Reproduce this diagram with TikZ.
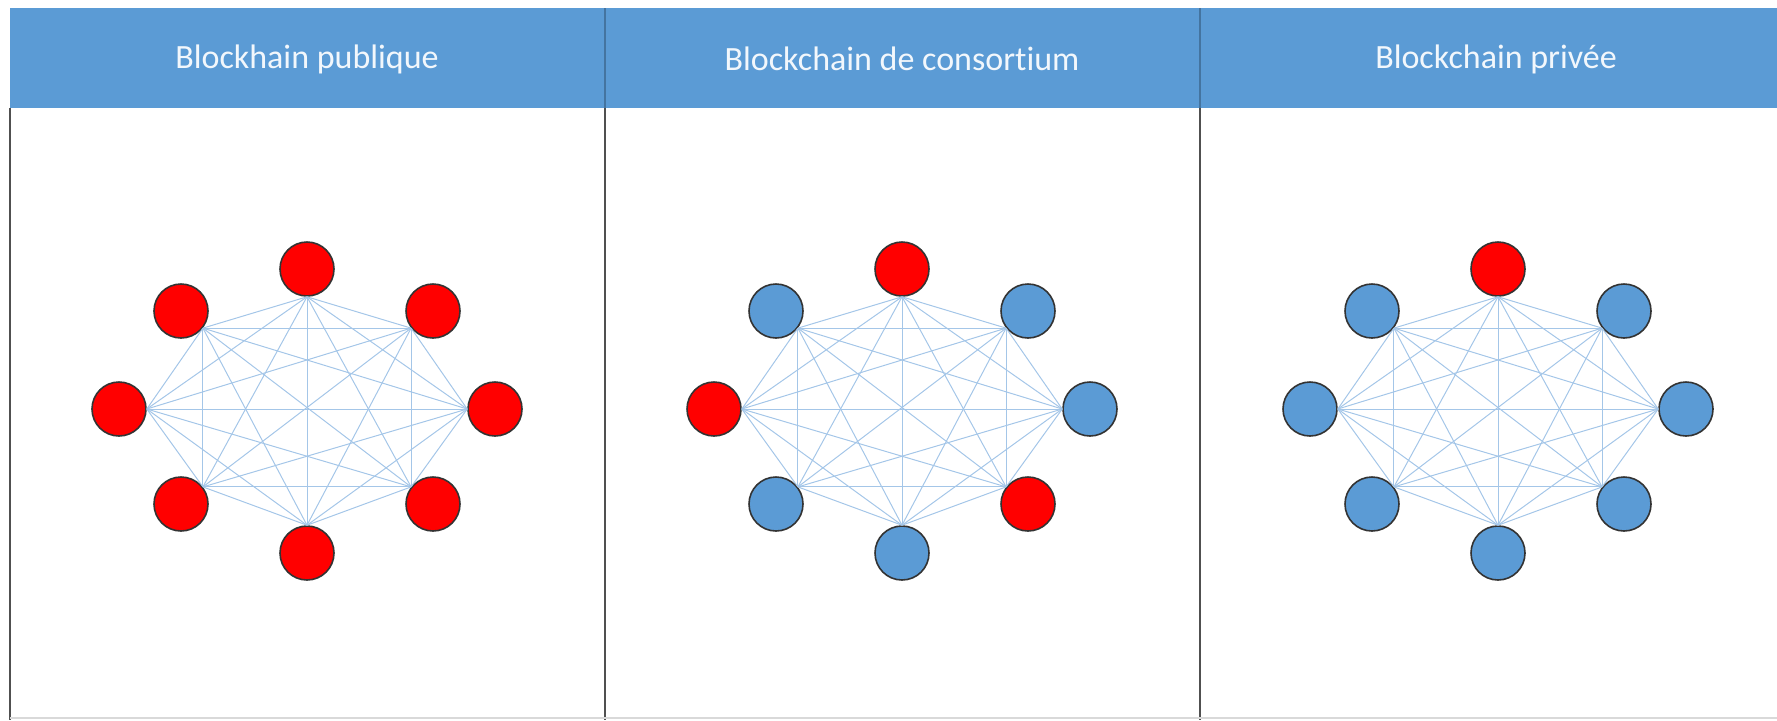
\documentclass[tikz,border=0pt]{standalone}
\usepackage{fontspec}
\setmainfont{Carlito}[Ligatures={NoCommon}]
\definecolor{hdrblue}{HTML}{5B9BD5}
\definecolor{nodeblue}{HTML}{5B9BD5}
\definecolor{linkblue}{HTML}{A4C6E8}
\definecolor{rimgray}{HTML}{505050}

\begin{document}
\begin{tikzpicture}[x=0.5pt, y=-0.5pt,
    peer/.style = {circle, draw=black!80, line width=0.8pt, minimum size=27pt, inner sep=0pt},
    link/.style = {draw=linkblue, line width=0.5pt},
    title/.style = {text=white!92!hdrblue, font=\fontsize{17}{20}\selectfont}]

    \useasboundingbox (0,0) rectangle (1777,720);

    % header band and panel frame
    \fill[hdrblue] (10,8) rectangle (1777,108);
    \draw[hdrblue!75!black, line width=0.6pt] (605,8) -- (605,108) (1200,8) -- (1200,108);
    \draw[rimgray, line width=1pt] (10,108) -- (10,720) (605,108) -- (605,720) (1200,108) -- (1200,720);
    \draw[black!15, line width=0.8pt] (10,718) -- (1777,718);

    \node (T1) [title] at (307,59) {Blockhain publique};
    \node (T2) [title] at (902,59) {Blockchain de consortium};
    \node (T3) [title] at (1496,59) {Blockchain privée};

    % the three networks
    \begin{scope}[shift={(307,409)}]
        \foreach \i/\dx/\dy/\c in {1/0/-140/red, 2/-126/-98/red, 3/-188/0/red, 4/-126/95/red,
                                   5/0/144/red, 6/126/95/red, 7/188/0/red, 8/126/-98/red}
            \node (P\i) [peer, fill=\c] at (\dx,\dy) {};
    \end{scope}

    \begin{scope}[shift={(902,409)}]
        \foreach \i/\dx/\dy/\c in {1/0/-140/red, 2/-126/-98/nodeblue, 3/-188/0/red, 4/-126/95/nodeblue,
                                   5/0/144/nodeblue, 6/126/95/red, 7/188/0/nodeblue, 8/126/-98/nodeblue}
            \node (C\i) [peer, fill=\c] at (\dx,\dy) {};
    \end{scope}

    \begin{scope}[shift={(1498,409)}]
        \foreach \i/\dx/\dy/\c in {1/0/-140/red, 2/-126/-98/nodeblue, 3/-188/0/nodeblue, 4/-126/95/nodeblue,
                                   5/0/144/nodeblue, 6/126/95/nodeblue, 7/188/0/nodeblue, 8/126/-98/nodeblue}
            \node (R\i) [peer, fill=\c] at (\dx,\dy) {};
    \end{scope}

    % every peer linked to every other one
    \foreach \g in {P,C,R}
        \foreach \i/\a in {1/270, 2/322, 3/0, 4/38, 5/90, 6/142, 7/180, 8/218}
            \foreach \j/\b in {1/270, 2/322, 3/0, 4/38, 5/90, 6/142, 7/180, 8/218}
                {\ifnum\i<\j \draw[link] (\g\i.\a) -- (\g\j.\b); \fi}

\end{tikzpicture}
\end{document}
